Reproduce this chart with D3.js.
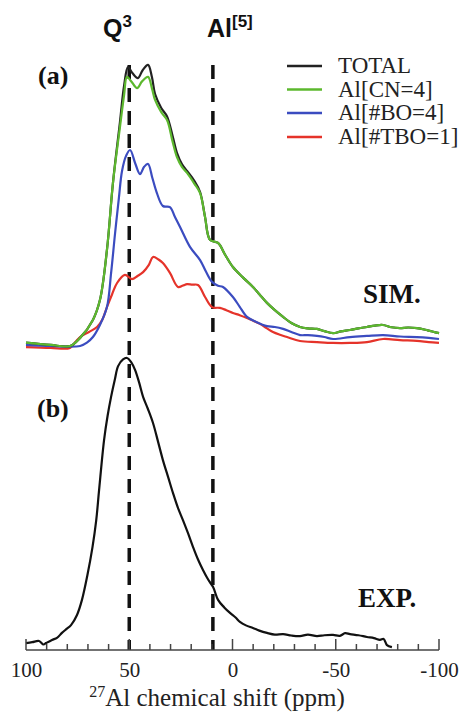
<!DOCTYPE html>
<html><head><meta charset="utf-8">
<script src="https://cdn.jsdelivr.net/npm/d3@7"></script>
<style>html,body{margin:0;padding:0;background:#fff;}svg{display:block;}</style>
</head><body>
<svg id="chart" width="462" height="715"></svg>
<script>
// ---- data (ppm, intensity) ----
const seriesNames = ["TOTAL", "Al[CN=4]", "Al[#BO=4]", "Al[#TBO=1]"];
const seriesColors = ["#222222", "#5cb82e", "#3b4cc0", "#e5332a"];

const total = [[100,1.2],[88,0.4],[78.7,0],[73.8,2.9],[67.6,9.3],[64.2,16.4],[60.8,34.3],[57.9,58.2],[54.5,80],[52.5,93],[50.6,99.6],[48.5,97.5],[45.8,95.7],[43.5,98.5],[40.9,100.4],[39,96],[37.5,90],[34.5,85],[31.7,82],[29,75],[26.9,69],[24.5,65],[22,62.5],[18.5,59],[15.7,55],[13.3,46.1],[10.9,37.9],[7,36.8],[3.5,32.5],[-0.2,28.2],[-5,24.5],[-9.9,21.1],[-13,18.5],[-16.7,15.4],[-20.5,12.8],[-24.5,10.4],[-28.5,8.2],[-32.7,6.8],[-36.5,6.3],[-40.9,6.1],[-44.5,5.3],[-48.7,4.6],[-52.5,5.2],[-56.9,5.7],[-61,6.3],[-65.1,6.8],[-69,7.3],[-72.9,7.5],[-77,6.7],[-81.1,6.4],[-85,6.6],[-89.3,6.4],[-94.5,5.6],[-100,4.6]];
const cn4 = [[100,1.2],[88,0.4],[78.7,0],[73.8,2.9],[67.6,9.3],[64.2,16.4],[60.8,34.3],[57.9,58.2],[54.5,78.2],[52.5,89.6],[51.1,96.1],[49,94.5],[46.2,92.1],[43.8,94.5],[40.9,96.1],[39,92],[37.5,87.9],[34.5,83.5],[31.7,80.7],[29,73],[26.9,67.5],[24.5,64],[22,61.8],[18.5,58],[15.7,54.6],[13.3,46.1],[10.9,37.9],[7,36.8],[3.5,32.5],[-0.2,28.2],[-5,24.5],[-9.9,21.1],[-13,18.5],[-16.7,15.4],[-20.5,12.8],[-24.5,10.4],[-28.5,8.2],[-32.7,6.8],[-36.5,6.3],[-40.9,6.1],[-44.5,5.3],[-48.7,4.6],[-52.5,5.2],[-56.9,5.7],[-61,6.3],[-65.1,6.8],[-69,7.3],[-72.9,7.5],[-77,6.7],[-81.1,6.4],[-85,6.6],[-89.3,6.4],[-94.5,5.6],[-100,4.6]];
const bo4 = [[100,0.4],[88,0],[73.8,0],[70.5,1.2],[67.6,3.2],[64.2,7.5],[60.8,13.9],[58.8,26],[56.9,40],[55,53],[53.5,62.5],[51.5,68],[49.6,70],[47,65],[44.8,61.4],[42.8,64],[40.9,65],[38.8,60],[36.6,54.6],[33.7,50],[30.3,49.6],[27.8,46],[25.4,42.5],[20.6,35.4],[15.7,30.7],[12.8,26.5],[9.9,22.9],[7,21.5],[4.6,21.1],[-0.2,17.5],[-3.5,14],[-7,10.4],[-11.5,8.6],[-16.7,7.1],[-20.5,6.8],[-24.5,6.1],[-28.5,5],[-32.7,3.9],[-36.5,3.9],[-40.9,3.6],[-44.5,3.2],[-48.7,2.5],[-56.9,3.2],[-65.1,3.6],[-72.9,3.9],[-81.1,3.4],[-89.3,3.2],[-95,2.9],[-100,2.5]];
const tbo1 = [[100,-0.4],[88,-0.7],[78.7,-0.7],[76,1.5],[73.8,3.2],[69.5,5],[65.6,6.8],[63,9.5],[60.8,13.9],[58.3,18.5],[55.9,22.5],[52.1,25.4],[48.7,23.9],[46,25],[43.3,26.4],[40.5,29],[38.5,31.8],[36,31],[33.7,29.6],[30.3,26.1],[26.4,21.1],[24,21.6],[22,22.1],[19.5,21.9],[16.7,21.8],[13.3,17.5],[9.9,13.9],[6.1,13.6],[3,12.8],[-0.2,11.8],[-3.5,11],[-7,10],[-10,9],[-13.3,7.9],[-16.5,6.4],[-19.6,5],[-23,4],[-26.4,3.2],[-32.7,1.8],[-40.9,1.4],[-48.7,1.1],[-56.9,1.1],[-65.1,1.4],[-72.9,2.5],[-81.1,2.1],[-89.3,1.8],[-95,1.4],[-100,1.1]];
const simSeries = [total, cn4, bo4, tbo1];
const drawOrder = [3, 2, 0, 1];

const exp = [[100,1.7],[97,2],[93.7,2.4],[91.5,1.2],[90.3,1.7],[87.4,2.8],[85,3.5],[82.6,5.2],[80.5,6.5],[78.2,7.9],[75.3,11.4],[72.9,16.6],[70.3,25],[67.8,34.8],[66,44],[64.6,54.5],[62.2,71.7],[60.5,80],[58.8,86.6],[57,92.5],[55.4,97.2],[53,99.5],[51.1,100],[49,98.5],[47.2,95.9],[45.2,91.5],[43.3,86.6],[41,82.5],[38.5,77.6],[36,71],[33.7,64.8],[31.2,59],[28.8,53.4],[26.5,48.5],[24,44.1],[21.5,39.5],[19.1,34.8],[16.7,30.5],[14.3,26.9],[11.8,23.6],[9.4,21],[7,16.6],[4,14],[1.2,12.1],[-1.5,10.5],[-3.6,9],[-6.5,7.8],[-9.9,6.9],[-13,6],[-16.7,5.2],[-20.5,4.6],[-24.5,4.8],[-28.5,4.3],[-32.7,4.1],[-36.5,4.6],[-40.9,4.1],[-44.5,4.4],[-48.7,4.5],[-52,4.2],[-54.5,5.1],[-56.9,4.8],[-61,4.4],[-65.1,3.8],[-68.5,3.4],[-71.4,2.8],[-73.2,3.1],[-74.8,1.0],[-77.2,0.3]];

const markerPpm = [50, 9.5];
const majorTicks = [100, 50, 0, -50, -100];
const minorTicks = d3.range(100, -101, -10);

// ---- scales ----
const svg = d3.select("#chart");
const x = d3.scaleLinear().domain([100, -100]).range([26, 439]);
const ySim = d3.scaleLinear().domain([0, 100]).range([346, 66]);
const yExp = d3.scaleLinear().domain([0, 100]).range([648, 358]);
const axisY = 650;

// dashed marker lines
svg.selectAll("line.marker").data(markerPpm).enter().append("line")
  .attr("x1", d => x(d)).attr("x2", d => x(d))
  .attr("y1", 65).attr("y2", axisY)
  .attr("stroke", "#111").attr("stroke-width", 3.5)
  .attr("stroke-dasharray", "14,9");

// sim curves
const lineSim = d3.line().x(d => x(d[0])).y(d => ySim(d[1])).curve(d3.curveCatmullRom.alpha(0.5));
drawOrder.forEach(i => {
  svg.append("path").datum(simSeries[i])
    .attr("d", lineSim).attr("fill", "none")
    .attr("stroke", seriesColors[i]).attr("stroke-width", 2.2);
});

// exp curve
const lineExp = d3.line().x(d => x(d[0])).y(d => yExp(d[1])).curve(d3.curveCatmullRom.alpha(0.5));
svg.append("path").datum(exp).attr("d", lineExp)
  .attr("fill", "none").attr("stroke", "#111").attr("stroke-width", 2.2);

// axis
const axis = d3.axisBottom(x).tickValues(majorTicks).tickSize(0).tickPadding(12)
  .tickFormat(d => d);
const gAxis = svg.append("g").attr("transform", `translate(0,${axisY})`).call(axis);
gAxis.select(".domain").attr("stroke", "#444").attr("stroke-width", 1.6).attr("d", `M${x(100)},0H${x(-100)}`);
gAxis.selectAll(".tick text").attr("font-family", "'Liberation Serif','Times New Roman',serif")
  .attr("font-size", 21).attr("fill", "#222");
svg.selectAll("line.minor").data(minorTicks).enter().append("line")
  .attr("x1", d => x(d)).attr("x2", d => x(d))
  .attr("y1", d => axisY - (majorTicks.includes(d) ? 11 : 6)).attr("y2", axisY)
  .attr("stroke", "#444").attr("stroke-width", 1.5);

// axis title
const title = svg.append("text").attr("x", 217).attr("y", 706).attr("text-anchor", "middle")
  .attr("font-family", "'Liberation Serif','Times New Roman',serif").attr("font-size", 25).attr("fill", "#222");
title.append("tspan").text("27").attr("font-size", 16).attr("dy", -9);
title.append("tspan").text("Al chemical shift (ppm)").attr("dy", 9);

// top labels
const sans = "'Liberation Sans', Arial, sans-serif";
const q = svg.append("text").attr("x", 103).attr("y", 37).attr("font-family", sans).attr("font-size", 25).attr("font-weight", "bold").attr("fill", "#111");
q.append("tspan").text("Q");
q.append("tspan").text("3").attr("font-size", 17).attr("dy", -10);
const al = svg.append("text").attr("x", 207).attr("y", 37).attr("font-family", sans).attr("font-size", 25).attr("font-weight", "bold").attr("fill", "#111");
al.append("tspan").text("Al");
al.append("tspan").text("[5]").attr("font-size", 17).attr("dy", -10);

// panel labels
const serif = "'Liberation Serif','Times New Roman',serif";
svg.append("text").attr("x", 38).attr("y", 84).text("(a)").attr("font-family", serif).attr("font-size", 26).attr("font-weight", "bold").attr("fill", "#111");
svg.append("text").attr("x", 37).attr("y", 417).text("(b)").attr("font-family", serif).attr("font-size", 26).attr("font-weight", "bold").attr("fill", "#111");
svg.append("text").attr("x", 363).attr("y", 303).text("SIM.").attr("font-family", serif).attr("font-size", 27).attr("font-weight", "bold").attr("fill", "#111");
svg.append("text").attr("x", 358).attr("y", 607).text("EXP.").attr("font-family", serif).attr("font-size", 27).attr("font-weight", "bold").attr("fill", "#111");

// legend
const legendY = [66, 89.5, 113, 137];
const lg = svg.selectAll("g.leg").data(seriesNames).enter().append("g")
  .attr("transform", (d, i) => `translate(0,${legendY[i]})`);
lg.append("line").attr("x1", 287).attr("x2", 322).attr("y1", 0).attr("y2", 0)
  .attr("stroke", (d, i) => seriesColors[i]).attr("stroke-width", 2.5);
lg.append("text").attr("x", 338).attr("y", 7).text(d => d)
  .attr("font-family", serif).attr("font-size", 23).attr("fill", "#222");
</script>
</body></html>
